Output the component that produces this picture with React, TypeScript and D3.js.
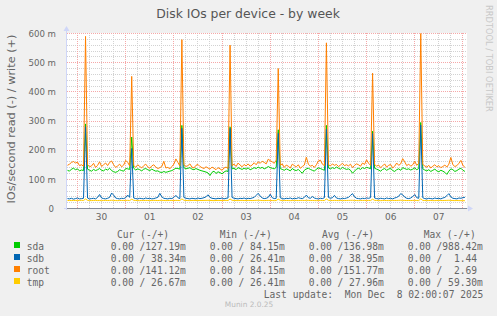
import React from "react";
import * as d3 from "d3";

const W = 497;
const H = 316;

const title = "Disk IOs per device - by week";
const yAxisLabel = "IOs/second read (-) / write (+)";
const watermark = "RRDTOOL / TOBI OETIKER";
const version = "Munin 2.0.25";
const lastUpdate = "Last update:  Mon Dec  8 02:00:07 2025";

const viewStart = new Date(2025, 10, 29, 18, 46);
const viewEnd = new Date(2025, 11, 8, 2, 2);
const sampleStart = new Date(2025, 10, 29, 19, 0);
const sampleStepHours = 1;

const yTicks = [0, 100, 200, 300, 400, 500, 600];
const yTickLabels = ["0", "100 m", "200 m", "300 m", "400 m", "500 m", "600 m"];
const dayLabels = ["30", "01", "02", "03", "04", "05", "06", "07"];

const seriesNames = ["sda", "sdb", "root", "tmp"];
const seriesColors = ["#00CC00", "#0066B3", "#FF8000", "#FFCC00"];

const sda = [
  131, 128, 135, 138, 133, 136, 129, 132, 130, 290,
  135, 131, 128, 134, 130, 133, 137, 131, 129, 135,
  132, 138, 130, 126, 124, 127, 133, 130, 128, 137,
  136, 134, 245, 138, 132, 136, 133, 129, 135, 137,
  133, 130, 135, 131, 128, 129, 125, 123, 127, 124,
  126, 128, 130, 134, 138, 137, 135, 285, 140, 136,
  138, 140, 135, 133, 137, 134, 131, 129, 127, 125,
  122, 113, 124, 128, 120, 126, 123, 119, 125, 129,
  127, 280, 136, 138, 133, 140, 137, 134, 138, 135,
  139, 133, 136, 140, 137, 142, 138, 141, 136, 139,
  144, 140, 138, 136, 141, 270, 137, 134, 131, 136,
  133, 129, 137, 132, 130, 134, 127, 121, 131, 136,
  138, 134, 131, 128, 135, 139, 137, 134, 131, 285,
  139, 136, 140, 137, 142, 138, 135, 141, 137, 134,
  136, 131, 121, 128, 135, 138, 134, 140, 137, 141,
  139, 136, 265, 138, 135, 132, 128, 134, 137, 131,
  135, 138, 130, 127, 133, 136, 131, 140, 137, 134,
  136, 132, 135, 139, 133, 137, 295, 136, 132, 129,
  133, 127, 131, 135, 129, 126, 131, 128, 124, 117,
  128, 136, 133, 127, 130, 135, 138, 131, 127.19,
];

const sdb = [
  34, 33, 35, 32, 34, 36, 33, 34, 35, 280,
  36, 33, 34, 35, 33, 38, 48, 36, 34, 33,
  35, 38, 53, 46, 36, 34, 33, 35, 34, 37,
  46, 38, 206, 36, 34, 33, 35, 34, 33, 36,
  34, 35, 33, 34, 36, 38, 52, 40, 35, 34,
  33, 35, 34, 38, 45, 37, 34, 275, 38, 35,
  34, 33, 35, 34, 33, 36, 34, 35, 37, 40,
  47, 38, 35, 34, 33, 35, 34, 36, 33, 35,
  36, 275, 38, 35, 34, 33, 35, 34, 36, 33,
  35, 34, 36, 38, 45, 52, 43, 36, 34, 35,
  38, 49, 37, 34, 35, 258, 37, 34, 33, 35,
  34, 36, 33, 35, 34, 37, 35, 34, 38, 46,
  37, 35, 41, 36, 34, 33, 35, 34, 37, 272,
  38, 35, 37, 45, 36, 34, 33, 35, 34, 36,
  38, 45, 51, 40, 35, 34, 33, 35, 34, 36,
  35, 37, 257, 36, 34, 33, 35, 34, 33, 36,
  34, 35, 33, 36, 38, 42, 51, 47, 39, 35,
  34, 36, 41, 48, 37, 35, 286, 37, 34, 33,
  35, 34, 33, 36, 34, 35, 33, 36, 38, 44,
  51, 40, 35, 34, 33, 36, 35, 37, 38.34,
];

const root = [
  148, 152, 158, 161, 156, 159, 147, 150, 145, 590,
  150, 143, 146, 155, 141, 148, 160, 144, 150, 156,
  147, 158, 163, 150, 141, 146, 152, 143, 149, 165,
  158, 146, 453, 148, 141, 150, 144, 139, 147, 152,
  143, 138, 146, 150, 142, 137, 140, 144, 162, 139,
  141, 136, 144, 152, 170, 158, 146, 579, 150, 144,
  147, 153, 142, 139, 148, 151, 144, 140, 137, 143,
  139, 135, 142, 138, 133, 140, 136, 131, 139, 142,
  137, 560, 147, 152, 144, 156, 149, 143, 151, 146,
  153, 145, 149, 157, 150, 160, 155, 162, 158, 153,
  169, 164, 160, 155, 166, 480, 148, 153, 141, 149,
  145, 139, 152, 147, 143, 150, 138, 144, 149, 176,
  152, 145, 148, 141, 150, 163, 166, 152, 147, 568,
  150, 146, 153, 148, 151, 144, 149, 155, 147, 150,
  146, 152, 140, 148, 153, 150, 145, 156, 151, 167,
  155, 148, 464, 151, 145, 149, 140, 146, 153, 142,
  148, 151, 139, 145, 156, 148, 153, 171, 160, 147,
  152, 145, 150, 162, 148, 155, 600, 151, 146, 142,
  148, 139, 145, 150, 143, 147, 140, 144, 149, 142,
  152, 175, 150, 144, 147, 155, 165, 148, 141.12,
];

const tmp = [
  27.2, 27.5, 27.1, 27.8, 27.4, 27.0, 27.6, 28.1, 27.5, 32.5,
  28.0, 27.3, 27.1, 27.6, 27.9, 27.2, 27.4, 27.0, 27.5, 27.8,
  27.3, 27.6, 28.2, 27.7, 27.2, 27.0, 27.4, 27.8, 27.3, 27.6,
  27.9, 27.4, 31.8, 28.1, 27.5, 27.2, 27.0, 27.6, 27.3, 27.8,
  27.5, 27.1, 27.4, 27.9, 27.6, 27.2, 27.8, 28.0, 27.4, 27.1,
  27.3, 27.7, 27.5, 27.2, 27.9, 27.6, 27.4, 32.9, 28.2, 27.5,
  27.2, 27.0, 27.5, 27.8, 27.3, 27.1, 27.6, 27.4, 27.7, 27.9,
  28.1, 27.6, 27.3, 27.0, 27.4, 27.8, 27.5, 27.2, 27.6, 27.9,
  27.4, 32.4, 28.0, 27.6, 27.3, 27.1, 27.5, 27.8, 27.2, 27.4,
  27.7, 27.5, 27.2, 27.6, 28.0, 28.3, 27.8, 27.4, 27.1, 27.5,
  27.8, 27.6, 27.3, 27.0, 27.4, 32.1, 27.9, 27.5, 27.2, 27.6,
  27.3, 27.0, 27.4, 27.7, 27.5, 27.2, 27.6, 27.9, 27.4, 28.1,
  27.7, 27.3, 27.6, 27.2, 27.0, 27.4, 27.8, 27.5, 27.3, 32.6,
  28.0, 27.6, 27.3, 27.8, 27.5, 27.1, 27.4, 27.7, 27.2, 27.5,
  27.8, 28.0, 28.2, 27.6, 27.3, 27.0, 27.4, 27.7, 27.5, 27.2,
  27.6, 27.3, 31.9, 27.9, 27.5, 27.2, 27.0, 27.4, 27.6, 27.3,
  27.1, 27.5, 27.8, 27.4, 27.6, 27.9, 28.3, 28.0, 27.6, 27.3,
  27.5, 27.2, 27.6, 27.9, 27.4, 27.1, 33.2, 27.8, 27.4, 27.1,
  27.3, 27.6, 27.2, 27.0, 27.4, 27.7, 27.5, 27.2, 27.6, 27.9,
  28.2, 27.7, 27.3, 27.0, 27.4, 27.1, 26.8, 26.9, 26.67,
];

const legendHeaders = ["Cur (-/+)", "Min (-/+)", "Avg (-/+)", "Max (-/+)"];
const curVals = ["0.00 /127.19m", "0.00 / 38.34m", "0.00 /141.12m", "0.00 / 26.67m"];
const minVals = ["0.00 / 84.15m", "0.00 / 26.41m", "0.00 / 84.15m", "0.00 / 26.41m"];
const avgVals = ["0.00 /136.98m", "0.00 / 38.95m", "0.00 /151.77m", "0.00 / 27.96m"];
const maxVals = ["0.00 /988.42m", "0.00 /  1.44", "0.00 /  2.69", "0.00 / 59.30m"];

const seriesData = [sda, sdb, root, tmp];

const SANS = "'DejaVu Sans', sans-serif";
const MONO = "'DejaVu Sans Mono', monospace";
const FONT_COLOR = "#666666";

export default function App() {
  const left = 67, right = 467, top = 33, bottom = 208;
  const x = d3.scaleTime().domain([viewStart, viewEnd]).range([left, right]);
  const y = d3.scaleLinear().domain([0, 600]).range([bottom + 0.5, top + 0.5]);

  const timeOf = (i: number) => d3.timeHour.offset(sampleStart, i * sampleStepHours);
  const line = d3
    .line<number>()
    .x((_, i) => x(timeOf(i)))
    .y((d) => y(d));

  const crisp = (v: number) => Math.floor(v) + 0.5;

  const minorY = d3.range(20, 600, 20).filter((v) => v % 100 !== 0);
  const majorY = yTicks;
  const days = d3.timeDay.range(d3.timeDay.ceil(viewStart), viewEnd);
  const sixHours = d3.timeHour.every(6)!.range(viewStart, viewEnd).filter((t) => t.getHours() !== 0);
  const noons = days.slice(0, dayLabels.length).map((d) => d3.timeHour.offset(d, 12));

  const colX = [110.7, 209.7, 308.7, 407.7];
  const headerX = [117, 219.7, 322, 423.7];
  const baseY = 237.5;
  const rowH = 12;

  return (
    <svg
      width={W}
      height={H}
      style={{ position: "fixed", left: 0, top: 0, display: "block" }}
      xmlns="http://www.w3.org/2000/svg"
    >
      <rect x={0} y={0} width={W} height={H} fill="#F0F0F0" />
      <text x={248} y={18} textAnchor="middle" fontFamily={SANS} fontSize={12.4} fill="#555">
        {title}
      </text>
      <text
        transform={`translate(486,5) rotate(90)`}
        fontFamily={SANS}
        fontSize={8.3}
        fill="#C8C8C8"
      >
        {watermark}
      </text>
      <text
        transform={`translate(15,119) rotate(-90)`}
        textAnchor="middle"
        fontFamily={SANS}
        fontSize={11.3}
        fill={FONT_COLOR}
      >
        {yAxisLabel}
      </text>

      <rect x={left} y={top} width={right - left} height={bottom - top} fill="#FFFFFF" />

      <g shapeRendering="crispEdges" strokeDasharray="1,1">
        {minorY.map((v) => (
          <line key={"my" + v} x1={left} x2={right} y1={crisp(y(v))} y2={crisp(y(v))} stroke="#D2D2D2" />
        ))}
        {sixHours.map((t) => (
          <line key={"mx" + t.getTime()} x1={crisp(x(t))} x2={crisp(x(t))} y1={top} y2={bottom} stroke="#D2D2D2" />
        ))}
        {majorY.map((v) => (
          <line key={"My" + v} x1={left} x2={right} y1={crisp(y(v))} y2={crisp(y(v))} stroke="#F5A8A8" />
        ))}
        {days.map((t) => (
          <line key={"Mx" + t.getTime()} x1={crisp(x(t))} x2={crisp(x(t))} y1={top} y2={bottom} stroke="#F5A8A8" />
        ))}
      </g>

      <defs>
        <clipPath id="plotClip">
          <rect x={left} y={top - 2} width={right - left} height={bottom - top + 4} />
        </clipPath>
      </defs>
      <g clipPath="url(#plotClip)" fill="none" strokeWidth={1}>
        {seriesData.map((d, k) => (
          <path key={seriesNames[k]} d={line(d) || ""} stroke={seriesColors[k]} strokeLinejoin="round" />
        ))}
      </g>

      {/* axes */}
      <g shapeRendering="crispEdges">
        <line x1={left - 0.5} x2={left - 0.5} y1={bottom + 2} y2={top - 5} stroke="#CFD6F8" />
        <line x1={left - 3} x2={right + 2} y1={bottom + 0.5} y2={bottom + 0.5} stroke="#CFD6F8" />
        <line x1={left} x2={right} y1={bottom + 0.5} y2={bottom + 0.5} stroke="#858B98" />
      </g>
      <path d={`M${left - 3.5},${top - 2} L${left - 0.5},${top - 7} L${left + 2.5},${top - 2} Z`} fill="#CFD6F8" />
      <path d={`M${right + 1},${bottom - 2.5} L${right + 6},${bottom + 0.5} L${right + 1},${bottom + 3.5} Z`} fill="#CFD6F8" />

      {/* tick labels */}
      {yTicks.map((v, i) => (
        <text
          key={"yt" + v}
          x={v === 0 ? 54 : 56}
          y={y(v) + 3.2}
          textAnchor="end"
          fontFamily={SANS}
          fontSize={8.6}
          fill={FONT_COLOR}
        >
          {yTickLabels[i]}
        </text>
      ))}
      {noons.map((t, i) => (
        <text
          key={"xt" + i}
          x={x(t)}
          y={219.5}
          textAnchor="middle"
          fontFamily={SANS}
          fontSize={9}
          fill={FONT_COLOR}
        >
          {dayLabels[i]}
        </text>
      ))}

      {/* legend */}
      <g fontFamily={MONO} fontSize={9.6} fill={FONT_COLOR} style={{ whiteSpace: "pre" }}>
        {legendHeaders.map((h, i) => (
          <text key={"h" + i} x={headerX[i]} y={baseY} xmlSpace="preserve">
            {h}
          </text>
        ))}
        {seriesNames.map((n, k) => {
          const by = baseY + rowH * (k + 1);
          return (
            <g key={"lg" + n}>
              <rect x={14} y={by - 7.5} width={6} height={6} fill={seriesColors[k]} />
              <text x={26.7} y={by}>{n}</text>
              {[curVals, minVals, avgVals, maxVals].map((col, c) => (
                <text key={c} x={colX[c]} y={by} xmlSpace="preserve">
                  {col[k]}
                </text>
              ))}
            </g>
          );
        })}
        <text x={483.3} y={baseY + rowH * 5} textAnchor="end" xmlSpace="preserve">
          {lastUpdate}
        </text>
      </g>
      <text x={249} y={307} textAnchor="middle" fontFamily={SANS} fontSize={7.4} fill="#BBBBBB">
        {version}
      </text>
    </svg>
  );
}
